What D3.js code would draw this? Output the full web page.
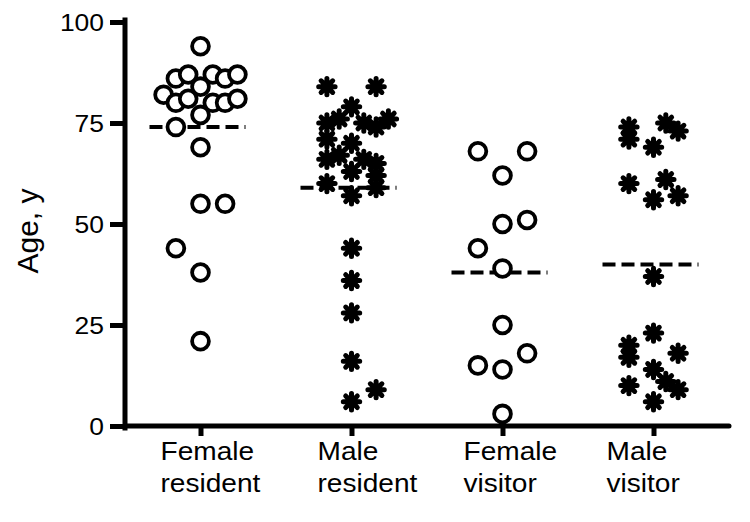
<!DOCTYPE html>
<html>
<head>
<meta charset="utf-8">
<script src="https://cdn.jsdelivr.net/npm/d3@7"></script>
<style>
  html, body { margin: 0; padding: 0; background: #fff; }
  svg { display: block; }
  text { font-family: "Liberation Sans", Arial, sans-serif; fill: #000; }
</style>
</head>
<body>
<svg id="chart" width="750" height="522"></svg>
<script>
// ---------------- data ----------------
const categories = ["Female resident", "Male resident", "Female visitor", "Male visitor"];
const categoryLines = [["Female", "resident"], ["Male", "resident"], ["Female", "visitor"], ["Male", "visitor"]];
const markers = ["circle", "asterisk", "circle", "asterisk"];
const yTicks = [0, 25, 50, 75, 100];
const yLabel = "Age, y";

const femaleResident    = [94, 86, 87, 87, 86, 87, 84, 82, 80, 81, 80, 80, 81, 77, 74, 69, 55, 55, 44, 38, 21];
const femaleResidentCol = [ 0, -2, -1,  1,  2,  3,  0, -3, -2, -1,  1,  2,  3,  0, -2,  0,  0,  2, -2,  0,  0];

const maleResident      = [84, 84, 79, 75, 76, 75, 74, 76, 71, 70, 66, 67, 66, 65, 63, 62, 60, 59, 57, 44, 36, 28, 16, 6, 9];
const maleResidentCol   = [-2,  2,  0, -2, -1,  1,  2,  3, -2,  0, -2, -1,  1,  2,  0,  2, -2,  2,  0,  0,  0,  0,  0, 0, 2];

const femaleVisitor     = [68, 68, 62, 50, 51, 44, 39, 25, 18, 15, 14, 3];
const femaleVisitorCol  = [-2,  2,  0,  0,  2, -2,  0,  0,  2, -2,  0, 0];

const maleVisitor       = [74, 75, 73, 71, 69, 60, 61, 56, 57, 37, 23, 20, 17, 18, 14, 11, 9, 10, 6];
const maleVisitorCol    = [-2,  1,  2, -2,  0, -2,  1,  0,  2,  0,  0, -2, -2,  2,  0,  1, 2, -2, 0];

// group means (dashed lines)
const groupMeans = [74, 59, 38, 40];

const seriesValues = [femaleResident, maleResident, femaleVisitor, maleVisitor];
const seriesCols   = [femaleResidentCol, maleResidentCol, femaleVisitorCol, maleVisitorCol];

// ---------------- layout ----------------
const svg = d3.select("#chart");
const axisX = 125, axisY = 426, topY = 22, rightX = 729;
const colStep = 12.3;
const labelShift = [-40, -34, -39, -47];
const stretch = 1.08;

const x = d3.scalePoint().domain(categories).range([axisX, rightX]).padding(0.5);
const y = d3.scaleLinear().domain([0, 100]).range([axisY, topY]);

// mean lines (drawn first, under the markers)
const meanG = svg.append("g");
categories.forEach((c, i) => {
  const m = groupMeans[i];
  meanG.append("line")
    .attr("x1", x(c) - 51).attr("x2", x(c) + 45)
    .attr("y1", y(m)).attr("y2", y(m))
    .attr("stroke", "#000").attr("stroke-width", 4)
    .attr("stroke-dasharray", "13,6");
});

// markers
const r = 8.4, ra = 8.2;
const asteriskPath = (() => {
  let p = "";
  for (let k = 0; k < 4; k++) {
    const a = k * Math.PI / 4;
    p += `M${-ra * Math.cos(a)},${-ra * Math.sin(a)}L${ra * Math.cos(a)},${ra * Math.sin(a)}`;
  }
  return p;
})();

categories.forEach((c, i) => {
  const g = svg.append("g");
  const pts = seriesValues[i].map((v, j) => ({ v, col: seriesCols[i][j] }));
  if (markers[i] === "circle") {
    g.selectAll("circle").data(pts).join("circle")
      .attr("cx", d => x(c) + d.col * colStep)
      .attr("cy", d => y(d.v))
      .attr("r", r)
      .attr("fill", "#fff").attr("stroke", "#000").attr("stroke-width", 3.8);
  } else {
    g.selectAll("path").data(pts).join("path")
      .attr("transform", d => `translate(${x(c) + d.col * colStep},${y(d.v)})`)
      .attr("d", asteriskPath)
      .attr("fill", "none").attr("stroke", "#000").attr("stroke-width", 5)
      .attr("stroke-linecap", "round");
  }
});

// y axis
const yAxisG = svg.append("g").attr("transform", `translate(${axisX},0)`)
  .call(d3.axisLeft(y).tickValues(yTicks).tickSize(15).tickPadding(6).tickFormat(d3.format("d")));
yAxisG.select(".domain").remove();
yAxisG.selectAll(".tick line").attr("stroke", "#000").attr("stroke-width", 5);
yAxisG.selectAll(".tick text")
  .attr("font-size", 24.5)
  .attr("font-family", "Liberation Sans, Arial, sans-serif")
  .attr("fill", "#000")
  .attr("dy", "0.34em")
  .attr("transform", function () {
    const xx = +d3.select(this).attr("x");
    return `translate(${xx},0) scale(${stretch},1) translate(${-xx},0)`;
  });

svg.append("line")
  .attr("x1", axisX).attr("x2", axisX)
  .attr("y1", topY - 2).attr("y2", axisY + 2)
  .attr("stroke", "#000").attr("stroke-width", 5).attr("stroke-linecap", "square");

// x axis
const xAxisG = svg.append("g").attr("transform", `translate(0,${axisY})`)
  .call(d3.axisBottom(x).tickSize(10).tickFormat(""));
xAxisG.select(".domain").remove();
xAxisG.selectAll(".tick line").attr("stroke", "#000").attr("stroke-width", 5);

svg.append("line")
  .attr("x1", axisX).attr("x2", rightX)
  .attr("y1", axisY).attr("y2", axisY)
  .attr("stroke", "#000").attr("stroke-width", 5).attr("stroke-linecap", "round");

// category labels
categories.forEach((c, i) => {
  const lx = x(c) + labelShift[i];
  categoryLines[i].forEach((line, k) => {
    svg.append("text")
      .attr("transform", `translate(${lx},${460 + k * 32}) scale(${stretch},1)`)
      .attr("font-size", 26)
      .text(line);
  });
});

// y label
svg.append("text")
  .attr("transform", `translate(38,231) rotate(-90)`)
  .attr("text-anchor", "middle")
  .attr("font-size", 30)
  .text(yLabel);
</script>
</body>
</html>
